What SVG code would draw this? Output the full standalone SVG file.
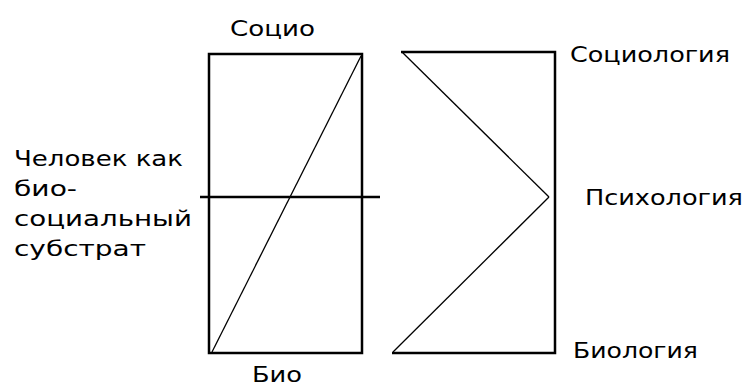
<svg xmlns="http://www.w3.org/2000/svg" width="751" height="387" viewBox="0 0 751 387">
<style>
text{font-family:"DejaVu Sans","Liberation Sans",sans-serif;font-size:21px;fill:#000}
.thick{stroke:#000;stroke-width:2.5;fill:none}
.thin{stroke:#000;stroke-width:1.3;fill:none}
</style>
<rect width="751" height="387" fill="#fff"/>
<g id="left-box">
<rect class="thick" x="209" y="54" width="153" height="299"/>
<line class="thin" x1="212" y1="352" x2="361" y2="56"/>
<line class="thick" x1="200" y1="197" x2="380" y2="197"/>
</g>
<g id="right-shape">
<polyline class="thick" points="401,52 555,52 555,353 392,353"/>
<line class="thin" x1="402" y1="52" x2="549" y2="197"/>
<line class="thin" x1="549" y1="197" x2="393" y2="352"/>
</g>
<g id="labels">
<text x="230" y="36" textLength="85" lengthAdjust="spacingAndGlyphs">Социо</text>
<text x="252" y="382" textLength="50" lengthAdjust="spacingAndGlyphs">Био</text>
<text x="14" y="166" textLength="169" lengthAdjust="spacingAndGlyphs">Человек как</text>
<text x="14" y="196" textLength="63" lengthAdjust="spacingAndGlyphs">био-</text>
<text x="14" y="226" textLength="178" lengthAdjust="spacingAndGlyphs">социальный</text>
<text x="14" y="256" textLength="132" lengthAdjust="spacingAndGlyphs">субстрат</text>
<text x="570" y="62" textLength="160" lengthAdjust="spacingAndGlyphs">Социология</text>
<text x="585" y="205" textLength="158" lengthAdjust="spacingAndGlyphs">Психология</text>
<text x="573" y="358" textLength="125" lengthAdjust="spacingAndGlyphs">Биология</text>
</g>
</svg>
